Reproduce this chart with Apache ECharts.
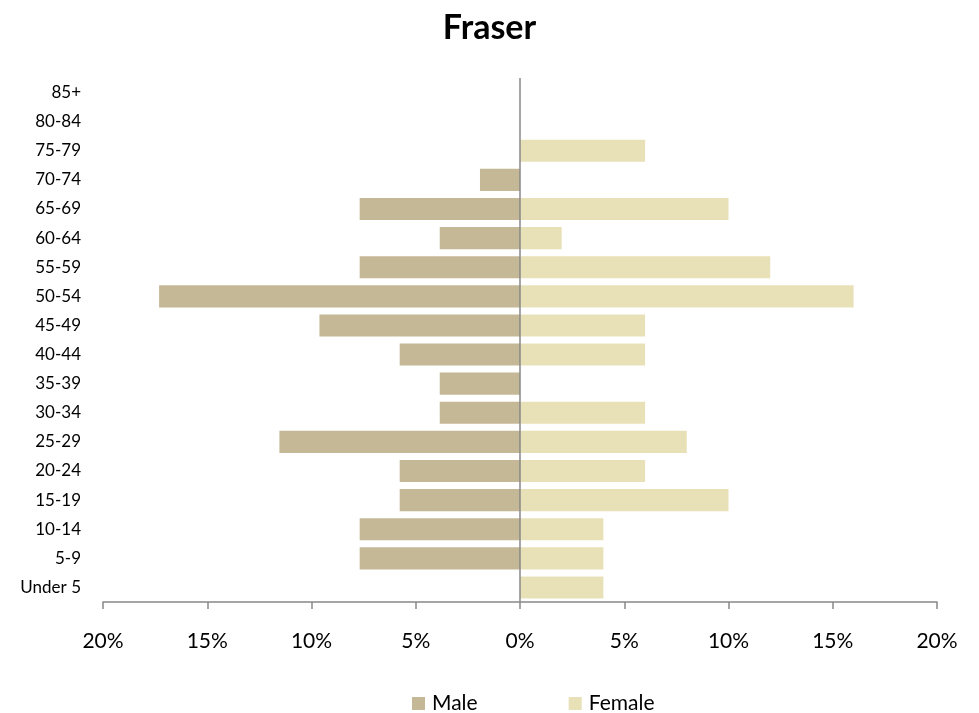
<!DOCTYPE html>
<html>
<head>
<meta charset="utf-8">
<script src="https://cdn.jsdelivr.net/npm/echarts@6/dist/echarts.min.js"></script>
<style>html,body{margin:0;padding:0;background:#fff}#c{width:979px;height:713px}</style>
</head>
<body>
<div id="c"></div>
<script>
var categories = ['Under 5','5-9','10-14','15-19','20-24','25-29','30-34','35-39','40-44','45-49','50-54','55-59','60-64','65-69','70-74','75-79','80-84','85+'];
var male = [0, 7.69, 7.69, 5.77, 5.77, 11.54, 3.85, 3.85, 5.77, 9.62, 17.31, 7.69, 3.85, 7.69, 1.92, 0, 0, 0];
var female = [4, 4, 4, 10, 6, 8, 6, 0, 6, 6, 16, 12, 2, 10, 0, 6, 0, 0];
var xTicks = [-20, -15, -10, -5, 0, 5, 10, 15, 20];

var FONT = 'Lato, "Open Sans", sans-serif';
var chart = echarts.init(document.getElementById('c'));
chart.setOption({
  animation: false,
  backgroundColor: '#fff',
  title: {
    text: 'Fraser', left: 'center', top: 6,
    textStyle: {fontFamily: FONT, fontSize: 34, fontWeight: 'bold', color: '#000'}
  },
  legend: {
    data: ['Male', 'Female'], left: 407, top: 688,
    itemWidth: 13, itemHeight: 13, itemGap: 91, icon: 'rect',
    textStyle: {fontFamily: FONT, fontSize: 21, color: '#000', padding: [0, 0, 0, 2]}
  },
  grid: {left: 103, right: 42, top: 78, bottom: 111, containLabel: false},
  xAxis: {
    type: 'value', min: xTicks[0], max: xTicks[xTicks.length - 1], interval: 5,
    axisLine: {show: true, lineStyle: {color: '#888', width: 1.5}},
    axisTick: {show: true, length: 7, lineStyle: {color: '#888', width: 1.5}},
    splitLine: {show: false},
    axisLabel: {
      margin: 29, fontFamily: FONT, fontSize: 21, color: '#000',
      formatter: function (v) { return Math.abs(v) + '%'; }
    }
  },
  yAxis: {
    type: 'category', data: categories,
    axisLine: {show: false}, axisTick: {show: false},
    axisLabel: {margin: 22, fontFamily: FONT, fontSize: 17, color: '#000'}
  },
  series: [
    {
      name: 'Male', type: 'bar', data: male.map(function (v) { return -v; }),
      barCategoryGap: '24%', barGap: '-100%',
      itemStyle: {color: '#C4B896'},
      markLine: {
        silent: true, symbol: 'none', label: {show: false},
        lineStyle: {color: '#888', width: 1.5, type: 'solid'},
        data: [{xAxis: 0}]
      },
      z: 2
    },
    {
      name: 'Female', type: 'bar', data: female,
      barCategoryGap: '24%', barGap: '-100%',
      itemStyle: {color: '#E8E1B8'},
      z: 2
    }
  ]
});
</script>
</body>
</html>
